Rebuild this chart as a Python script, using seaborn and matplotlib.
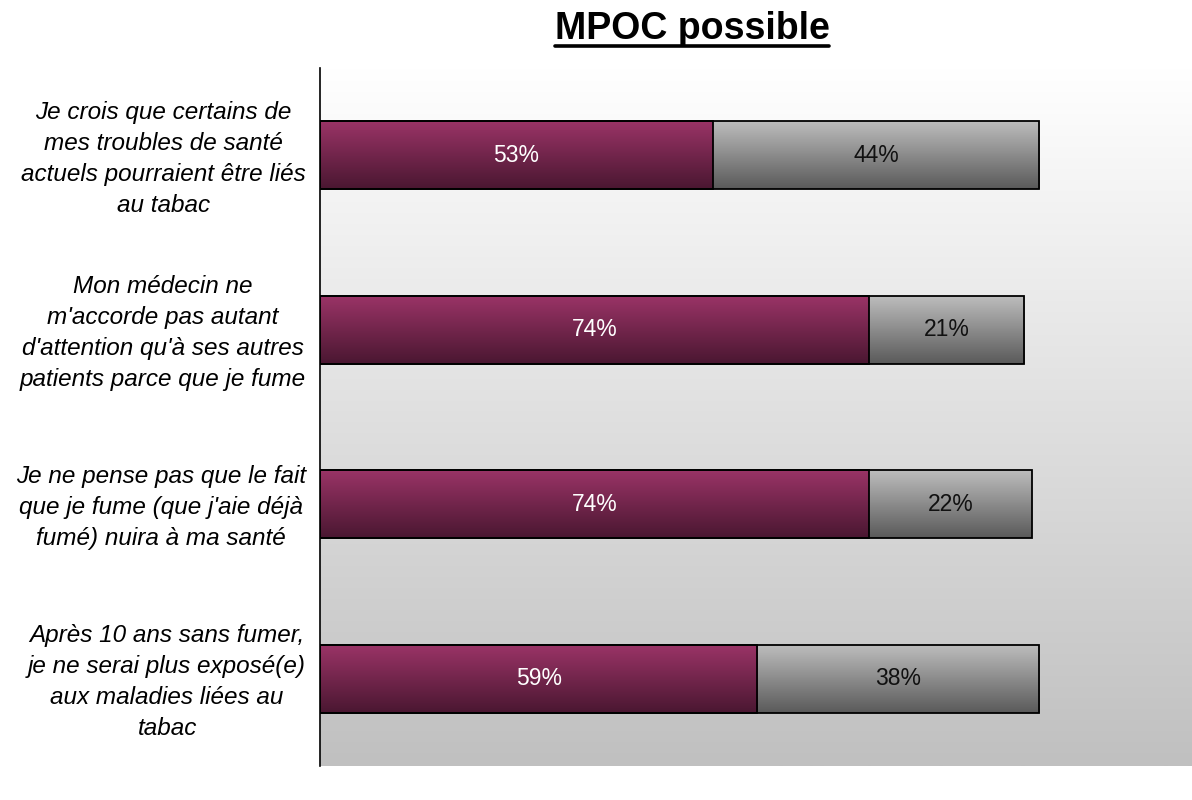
import numpy as np
import pandas as pd
import matplotlib
matplotlib.use('Agg')
import matplotlib.pyplot as plt
import matplotlib.transforms as mtransforms
from matplotlib.colors import LinearSegmentedColormap
import seaborn as sns

# chart data
statements = [
    "Je crois que certains de\nmes troubles de santé\nactuels pourraient être liés\nau tabac",
    "Mon médecin ne\nm'accorde pas autant\nd'attention qu'à ses autres\npatients parce que je fume",
    "Je ne pense pas que le fait\nque je fume (que j'aie déjà\nfumé) nuira à ma santé",
    "Après 10 ans sans fumer,\nje ne serai plus exposé(e)\naux maladies liées au\ntabac",
]
pct_first = [53, 74, 74, 59]   # purple segment
pct_second = [44, 21, 22, 38]  # grey segment
title = "MPOC possible"

df = pd.DataFrame({'statement': statements, 'first': pct_first, 'second': pct_second})
df['total'] = df['first'] + df['second']

sns.set_style('white')
plt.rcParams['font.family'] = ['Liberation Sans', 'DejaVu Sans']
plt.rcParams['text.color'] = 'black'
plt.rcParams['ytick.color'] = 'black'

fig = plt.figure(figsize=(11.92, 8), dpi=100)
ax = fig.add_axes([320 / 1192, 34 / 800, 872 / 1192, 698 / 800])

# grey segment drawn as the full total, purple on top
sns.barplot(data=df, x='total', y='statement', orient='h', color='grey',
            width=0.39, edgecolor='black', linewidth=1.3, ax=ax)
sns.barplot(data=df, x='first', y='statement', orient='h', color='purple',
            width=0.39, edgecolor='black', linewidth=1.3, ax=ax)

# background gradient (white -> light grey, top to bottom)
bg = LinearSegmentedColormap.from_list('bg', ['#ffffff', '#c0c0c0'])
ax.imshow(np.linspace(0, 1, 256).reshape(-1, 1), cmap=bg, aspect='auto',
          extent=[0, 1, 0, 1], transform=ax.transAxes, zorder=0)

# gradient fill in each bar
purple_cm = LinearSegmentedColormap.from_list('pu', ['#9b3467', '#4a1731'])
grey_cm = LinearSegmentedColormap.from_list('gr', ['#bebebe', '#5a5a5a'])
n = len(df)
for i, patch in enumerate(ax.patches):
    cm = grey_cm if i < n else purple_cm
    x0, y0 = patch.get_x(), patch.get_y()
    w, h = patch.get_width(), patch.get_height()
    patch.set_facecolor('none')
    patch.set_zorder(3)
    im = ax.imshow(np.linspace(0, 1, 128).reshape(-1, 1), cmap=cm, aspect='auto',
                   extent=[x0, x0 + w, y0 + h, y0], zorder=2)
    im.set_clip_path(patch)
ax.set_xlim(0, 117.6)
ax.set_ylim(3.5, -0.5)

# value labels
for i, row in df.iterrows():
    ax.text(row['first'] / 2, i, f"{row['first']}%", ha='center', va='center',
            color='white', fontsize=16.5, zorder=4)
    ax.text(row['first'] + row['second'] / 2, i, f"{row['second']}%", ha='center',
            va='center', color='#111111', fontsize=16.5, zorder=4)

ax.set_xlabel('')
ax.set_ylabel('')
ax.set_xticks([])
ax.tick_params(axis='y', length=0, pad=10)
shift = mtransforms.ScaledTranslation(0, 3 / 100, fig.dpi_scale_trans)
for lab in ax.get_yticklabels():
    lab.set_fontstyle('italic')
    lab.set_fontsize(17.5)
    lab.set_color('black')
    lab.set_multialignment('center')
    lab.set_linespacing(1.45)
    lab.set_transform(lab.get_transform() + shift)
for s in ['top', 'right', 'bottom']:
    ax.spines[s].set_visible(False)
ax.spines['left'].set_color('black')
ax.spines['left'].set_linewidth(1.2)
ax.spines['left'].set_zorder(5)

# title with underline
t = fig.text(692 / 1192, 1 - 29 / 800, title, ha='center', va='center',
             fontsize=27, fontweight='bold', color='black')
fig.canvas.draw()
bb = t.get_window_extent().transformed(fig.transFigure.inverted())
uy = 1 - 46 / 800
fig.add_artist(plt.Line2D([bb.x0, bb.x1], [uy, uy], color='black', linewidth=2.6,
                          transform=fig.transFigure))

fig.savefig('out.png', dpi=100)
